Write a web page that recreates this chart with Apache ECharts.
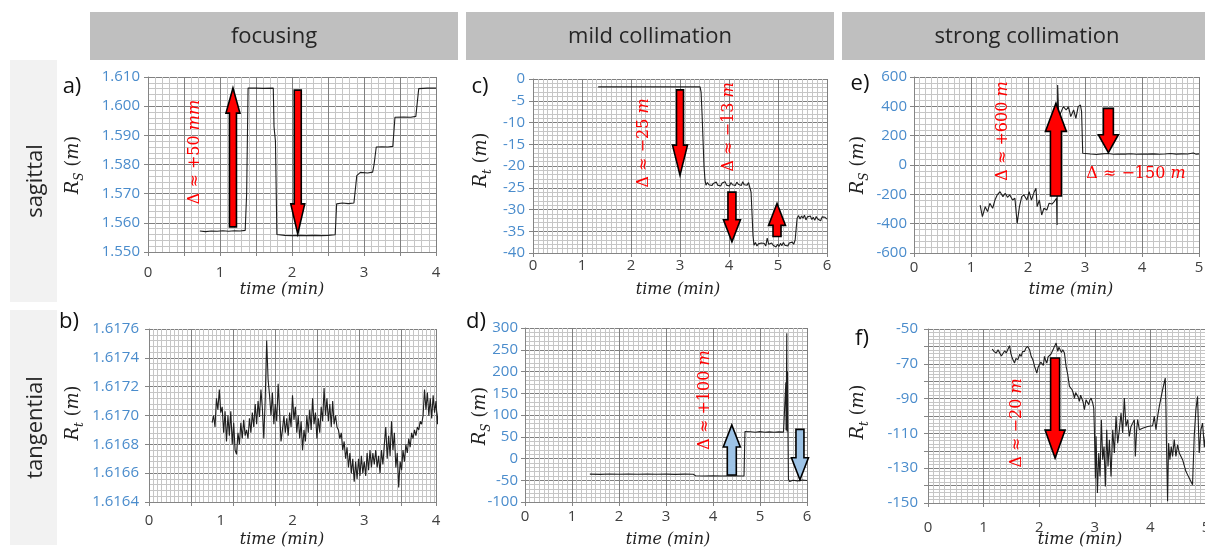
<!DOCTYPE html>
<html><head><meta charset="utf-8">
<script src="https://cdn.jsdelivr.net/npm/echarts@6/dist/echarts.min.js"></script>
<style>html,body{margin:0;padding:0;background:#fff}#c{width:1205px;height:551px}</style>
</head><body><div id="c"></div>
<script>
// ---------------- DATA ----------------
const headerLabels = ['focusing', 'mild collimation', 'strong collimation'];
const rowLabels = ['sagittal', 'tangential'];
const panelLetters = ['a)', 'b)', 'c)', 'd)', 'e)', 'f)'];
const xTitle = 'time (min)';

// axis ranges [min, max, interval, minorSplits]
const xRangeA = [0, 4, 0.5, 5],  yRangeA = [1.550, 1.610, 0.010, 5];
const xRangeB = [0, 4, 1, 0],    yRangeB = [1.6164, 1.6176, 0.0002, 5];
const xRangeC = [0, 6, 1, 10],   yRangeC = [-40, 0, 5, 5];
const xRangeD = [0, 6, 1, 10],   yRangeD = [-100, 300, 50, 5];
const xRangeE = [0, 5, 1, 10],   yRangeE = [-600, 600, 200, 5];
const xRangeF = [0, 5, 1, 10],   yRangeF = [-150, -50, 10, 5];

// a) focusing, sagittal  [time(min), Rs(m)]
const seriesA = [[0.72,1.5572],[0.80,1.5570],[0.88,1.5572],[0.96,1.5571],[1.04,1.5573],[1.12,1.5571],[1.20,1.5573],[1.28,1.5572],[1.35,1.5574],[1.37,1.5700],[1.39,1.6062],[1.50,1.6062],[1.60,1.6061],[1.74,1.6062],[1.75,1.5930],[1.77,1.5880],[1.79,1.5560],[1.90,1.5557],[2.00,1.5556],[2.10,1.5557],[2.20,1.5556],[2.30,1.5557],[2.40,1.5556],[2.50,1.5557],[2.60,1.5559],[2.62,1.5665],[2.70,1.5668],[2.78,1.5666],[2.86,1.5668],[2.90,1.5762],[2.95,1.5773],[3.05,1.5771],[3.12,1.5774],[3.14,1.5800],[3.17,1.5860],[3.25,1.5861],[3.33,1.5860],[3.40,1.5862],[3.43,1.5962],[3.55,1.5963],[3.65,1.5962],[3.72,1.5965],[3.76,1.6060],[3.88,1.6062],[4.00,1.6062]];

// b) focusing, tangential: samples from t=0.88 min every 0.02 min
const startB = 0.88, stepB = 0.02;
const valuesB = [1.61695,1.61700,1.61692,1.61712,1.61704,1.61718,1.61702,1.61706,1.61688,1.61703,1.61682,1.61700,1.61686,1.61703,1.61680,1.61695,1.61676,1.61673,1.61688,1.61680,1.61695,1.61684,1.61697,1.61686,1.61690,1.61684,1.61698,1.61688,1.61702,1.61692,1.61708,1.61694,1.61710,1.61699,1.61718,1.61705,1.61684,1.61712,1.61752,1.61725,1.61714,1.61700,1.61716,1.61694,1.61708,1.61696,1.61722,1.61703,1.61682,1.61690,1.61700,1.61688,1.61698,1.61686,1.61702,1.61692,1.61714,1.61697,1.61706,1.61688,1.61700,1.61684,1.61696,1.61676,1.61690,1.61682,1.61700,1.61688,1.61704,1.61690,1.61712,1.61694,1.61702,1.61684,1.61698,1.61688,1.61706,1.61696,1.61719,1.61700,1.61712,1.61696,1.61708,1.61692,1.61710,1.61694,1.61700,1.61692,1.61690,1.61684,1.61688,1.61676,1.61682,1.61670,1.61678,1.61664,1.61674,1.61660,1.61670,1.61654,1.61668,1.61656,1.61670,1.61658,1.61672,1.61660,1.61668,1.61658,1.61674,1.61662,1.61676,1.61664,1.61674,1.61666,1.61676,1.61664,1.61672,1.61660,1.61676,1.61666,1.61680,1.61692,1.61670,1.61686,1.61672,1.61696,1.61676,1.61688,1.61664,1.61674,1.61650,1.61668,1.61662,1.61676,1.61668,1.61680,1.61674,1.61684,1.61678,1.61688,1.61684,1.61690,1.61686,1.61692,1.61690,1.61696,1.61694,1.61700,1.61718,1.61704,1.61716,1.61700,1.61712,1.61698,1.61714,1.61702,1.61710,1.61694,1.61706,1.61690];
const seriesB = valuesB.map((v, i) => [startB + i * stepB, v]);

// c) mild collimation, sagittal panel (Rt)
const seriesC = [[1.33,-1.8],[1.6,-1.8],[2.0,-1.8],[2.5,-1.8],[3.0,-1.8],[3.41,-1.8],[3.43,-3],[3.45,-8],[3.47,-14],[3.49,-20],[3.51,-23.2],[3.53,-24.4],[3.56,-23.8],[3.59,-24.3],[3.62,-23.9],[3.65,-24.5],[3.68,-24.0],[3.71,-24.2],[3.74,-23.7],[3.77,-24.4],[3.80,-24.1],[3.83,-24.6],[3.86,-23.9],[3.89,-24.3],[3.92,-23.6],[3.95,-24.4],[3.98,-24.0],[4.01,-24.6],[4.04,-23.8],[4.07,-24.3],[4.10,-23.9],[4.13,-24.5],[4.16,-23.7],[4.19,-24.2],[4.22,-23.8],[4.25,-24.5],[4.28,-23.6],[4.31,-24.3],[4.34,-24.0],[4.37,-24.4],[4.40,-23.8],[4.43,-24.2],[4.45,-26],[4.47,-31],[4.49,-36],[4.51,-38.2],[4.54,-37.6],[4.57,-38.4],[4.60,-37.9],[4.63,-38.3],[4.66,-37.7],[4.69,-38.1],[4.72,-37.8],[4.75,-38.4],[4.78,-36.6],[4.81,-38.0],[4.84,-38.3],[4.87,-37.7],[4.90,-38.2],[4.93,-37.9],[4.96,-38.6],[4.99,-38.0],[5.02,-38.5],[5.05,-37.8],[5.08,-38.3],[5.11,-37.6],[5.14,-38.2],[5.17,-37.9],[5.20,-38.4],[5.23,-37.7],[5.26,-38.1],[5.29,-37.5],[5.32,-38.0],[5.35,-37.0],[5.37,-34.5],[5.39,-32.0],[5.42,-31.4],[5.45,-32.2],[5.48,-31.5],[5.51,-32.0],[5.54,-31.3],[5.57,-32.4],[5.60,-31.7],[5.63,-32.1],[5.66,-31.5],[5.69,-32.3],[5.72,-31.8],[5.75,-32.5],[5.78,-31.6],[5.81,-32.2],[5.84,-31.9],[5.87,-32.6],[5.90,-31.7],[5.93,-32.1],[5.96,-31.8],[6.0,-32.2]];

// d) mild collimation, tangential panel (Rs)
const seriesD = [[1.38,-36],[1.6,-36.4],[1.8,-35.6],[2.0,-36.3],[2.2,-35.8],[2.4,-36.2],[2.6,-35.7],[2.8,-36.3],[3.0,-35.9],[3.2,-36.4],[3.4,-36.0],[3.58,-36.2],[3.63,-39.6],[3.8,-40.2],[4.0,-39.8],[4.2,-40.3],[4.4,-39.7],[4.6,-40.2],[4.66,-40.0],[4.68,62],[4.8,61.5],[4.9,60.5],[5.0,61.8],[5.1,60.2],[5.2,61.3],[5.3,60.4],[5.4,61.2],[5.5,60.6],[5.54,61],[5.55,175],[5.555,65],[5.57,288],[5.575,62],[5.585,200],[5.595,65],[5.605,-48],[5.63,-53],[5.7,-50],[5.8,-51.5],[5.9,-49.5],[6.0,-50.5]];

// e) strong collimation, sagittal (Rs)
const seriesE = [[1.16,-273],[1.20,-352],[1.25,-284],[1.29,-318],[1.33,-261],[1.38,-295],[1.42,-239],[1.46,-204],[1.51,-182],[1.56,-216],[1.60,-193],[1.64,-220],[1.68,-204],[1.73,-239],[1.77,-227],[1.81,-398],[1.85,-284],[1.89,-216],[1.93,-204],[1.98,-239],[2.02,-182],[2.06,-239],[2.11,-182],[2.14,-159],[2.16,-284],[2.20,-239],[2.24,-341],[2.28,-295],[2.33,-307],[2.37,-261],[2.42,-266],[2.46,-250],[2.50,-227],[2.51,-409],[2.52,545],[2.54,330],[2.57,352],[2.62,398],[2.67,375],[2.71,398],[2.75,330],[2.80,375],[2.84,318],[2.88,398],[2.92,409],[2.94,364],[2.96,80],[2.98,68],[3.1,75],[3.2,72],[3.3,76],[3.4,78],[3.5,73],[3.6,75],[3.7,74],[3.8,77],[3.9,73],[4.0,75],[4.1,74],[4.2,76],[4.3,73],[4.4,75],[4.5,78],[4.6,74],[4.7,76],[4.8,75],[4.9,82],[4.95,74],[5.0,76]];

// f) strong collimation, tangential (Rt)
const seriesF = [[1.155,-61.5],[1.19,-63.0],[1.227,-63.8],[1.26,-62.0],[1.287,-62.9],[1.32,-65.5],[1.347,-64.8],[1.38,-62.5],[1.407,-63.8],[1.44,-61.5],[1.467,-59.6],[1.49,-64.0],[1.515,-66.7],[1.556,-69.6],[1.58,-67.0],[1.616,-67.6],[1.65,-64.5],[1.676,-65.7],[1.70,-63.0],[1.736,-62.9],[1.76,-61.0],[1.796,-60.0],[1.826,-61.9],[1.856,-65.7],[1.89,-68.0],[1.916,-71.5],[1.957,-75.3],[1.98,-72.0],[2.005,-71.5],[2.03,-69.0],[2.053,-68.6],[2.075,-71.0],[2.095,-65.7],[2.115,-68.0],[2.137,-69.6],[2.16,-66.0],[2.185,-66.7],[2.21,-64.5],[2.233,-63.8],[2.255,-61.5],[2.275,-60.0],[2.305,-58.1],[2.334,-62.9],[2.355,-60.5],[2.376,-61.0],[2.40,-63.5],[2.424,-61.9],[2.454,-63.8],[2.484,-71.5],[2.514,-76.3],[2.544,-83.0],[2.57,-82.0],[2.592,-84.9],[2.615,-87.0],[2.634,-89.7],[2.655,-86.5],[2.676,-85.9],[2.70,-89.0],[2.723,-91.6],[2.745,-88.0],[2.771,-87.8],[2.79,-92.0],[2.813,-96.4],[2.843,-90.6],[2.865,-92.0],[2.891,-93.5],[2.91,-91.0],[2.933,-89.7],[2.963,-92.6],[2.981,-95.4],[2.993,-107.9],[3.011,-135.7],[3.023,-111.7],[3.047,-144.3],[3.071,-121.3],[3.094,-134.7],[3.118,-102.1],[3.142,-125.1],[3.166,-117.5],[3.190,-140.5],[3.214,-107.9],[3.238,-129.0],[3.262,-113.6],[3.292,-134.7],[3.322,-107.9],[3.352,-121.3],[3.382,-100.2],[3.412,-115.6],[3.442,-107.9],[3.472,-98.3],[3.501,-109.8],[3.531,-89.7],[3.561,-106.0],[3.591,-102.1],[3.621,-111.7],[3.651,-106.0],[3.681,-104.1],[3.711,-102.1],[3.729,-123.2],[3.753,-107.9],[3.771,-102.1],[3.801,-107.9],[3.860,-107.0],[3.950,-106.0],[4.040,-105.6],[4.070,-100.2],[4.100,-107.9],[4.130,-100.2],[4.160,-94.5],[4.220,-84.9],[4.267,-78.2],[4.279,-94.5],[4.291,-119.4],[4.309,-149.0],[4.327,-115.6],[4.351,-125.1],[4.375,-117.5],[4.399,-123.2],[4.429,-113.6],[4.459,-123.2],[4.489,-116.5],[4.519,-121.3],[4.579,-125.1],[4.638,-131.8],[4.698,-135.7],[4.758,-139.5],[4.788,-111.7],[4.818,-96.4],[4.848,-88.7],[4.878,-121.3],[4.908,-107.9],[4.938,-104.1],[4.97,-118.0],[5.0,-108.0],[5.03,-112.0]];

// arrows: [time, from value, to value]
const arrowsA = [[1.18, 1.5586, 1.6062], [2.08, 1.6055, 1.5562]];
const arrowsC = [[3.0, -2.5, -22.1], [4.06, -26.0, -37.4], [4.98, -36.2, -28.6]];
const arrowsD = [[4.40, -38, 77], [5.85, 67, -49]];
const arrowsE = [[2.49, -211, 420], [3.41, 386, 84]];
const arrowsF = [[2.286, -66.7, -124.2]];

// annotation texts
const noteA = ['Δ ≈ +50 ', 'mm'];
const noteC1 = ['Δ ≈ −25 ', 'm'];
const noteC2 = ['Δ ≈ −13 ', 'm'];
const noteD = ['Δ ≈ +100 ', 'm'];
const noteE1 = ['Δ ≈ +600 ', 'm'];
const noteE2 = ['Δ ≈ −150 ', 'm'];
const noteF = ['Δ ≈ −20 ', 'm'];

// ---------------- STYLE / LAYOUT ----------------
const RED = '#ff0000', LBLUE = '#9dc3e6';
const GRID_MAJOR = '#7f7f7f', GRID_MINOR = '#c6c6c6', AXIS_C = '#858585';
const TICK_BLUE = '#4a8ccc', TICK_DARK = '#404040';
const TICK_FONT = 'Open Sans';

const intOnly = v => (Math.abs(v - Math.round(v)) < 1e-9 ? String(Math.round(v)) : '');
const fixed = n => (v => v.toFixed(n));
const every20 = v => ((Math.round(v) + 150) % 20 === 0 ? String(Math.round(v)) : '');

function axis(gi, r, o) {
  return {
    type: 'value', gridIndex: gi, min: r[0], max: r[1], interval: r[2], position: o.pos,
    axisLine: { show: o.line !== false, onZero: false, lineStyle: { color: AXIS_C, width: 1 } },
    axisTick: { show: o.tick !== false, length: 4, lineStyle: { color: AXIS_C } },
    axisLabel: { show: o.label !== false, color: o.color, fontFamily: TICK_FONT, fontSize: 15,
      margin: o.margin || 8, formatter: o.fmt, showMinLabel: true, showMaxLabel: true, hideOverlap: false },
    splitLine: { show: o.split !== false, lineStyle: { color: GRID_MAJOR, width: 1 } },
    minorTick: { show: false, splitNumber: r[3] || 5 },
    minorSplitLine: { show: o.split !== false && r[3] > 0, lineStyle: { color: GRID_MINOR, width: 1 } }
  };
}

function makeArrow(styles) {
  return function (params, api) {
    const s = styles[params.dataIndex];
    const a = api.coord([api.value(0), api.value(1)]);
    const b = api.coord([api.value(0), api.value(2)]);
    const dir = b[1] > a[1] ? 1 : -1;
    const cx = a[0], sw = s.sw / 2, hw = s.hw / 2, yb = b[1] - dir * s.hl;
    return {
      type: 'polygon',
      shape: { points: [[cx - sw, a[1]], [cx + sw, a[1]], [cx + sw, yb], [cx + hw, yb], [cx, b[1]], [cx - hw, yb], [cx - sw, yb]] },
      style: { fill: s.c, stroke: '#000', lineWidth: 1.6 }
    };
  };
}

const panels = [
  { box: [148, 77, 288, 175], x: xRangeA, y: yRangeA, data: seriesA, xm: 13, ym: 8, xfmt: intOnly, yfmt: fixed(3),
    arrows: arrowsA, aStyle: [{ c: RED, sw: 7, hw: 14, hl: 25 }, { c: RED, sw: 7, hw: 14, hl: 30 }] },
  { box: [149, 329, 287, 173], x: xRangeB, gridX: [0, 6.83, 1, 10], y: yRangeB, data: seriesB, xm: 11, ym: 10, yfmt: fixed(4) },
  { box: [533, 79, 294, 174], x: xRangeC, y: yRangeC, data: seriesC, xm: 5, ym: 8,
    arrows: arrowsC, aStyle: [{ c: RED, sw: 7, hw: 15, hl: 30 }, { c: RED, sw: 8, hw: 17, hl: 22 }, { c: RED, sw: 8, hw: 17, hl: 22 }] },
  { box: [525, 328, 282, 174], x: xRangeD, y: yRangeD, data: seriesD, xm: 7, ym: 7,
    arrows: arrowsD, aStyle: [{ c: LBLUE, sw: 9, hw: 17, hl: 22 }, { c: LBLUE, sw: 8, hw: 17, hl: 22 }] },
  { box: [914, 77, 285, 176], x: xRangeE, y: yRangeE, data: seriesE, xm: 7, ym: 7,
    arrows: arrowsE, aStyle: [{ c: RED, sw: 11, hw: 21, hl: 28 }, { c: RED, sw: 10, hw: 20, hl: 18 }] },
  { box: [928, 329, 278, 174], x: xRangeF, y: yRangeF, data: seriesF, xm: 17, ym: 10, yfmt: every20,
    arrows: arrowsF, aStyle: [{ c: RED, sw: 9, hw: 20, hl: 28 }] }
];

const option = { animation: false, backgroundColor: '#ffffff', grid: [], xAxis: [], yAxis: [], series: [], graphic: [] };

panels.forEach(p => {
  const gi = option.grid.length;
  option.grid.push({ left: p.box[0], top: p.box[1], width: p.box[2], height: p.box[3], containLabel: false, outerBoundsMode: 'none' });
  const xi = option.xAxis.length;
  option.xAxis.push(axis(gi, p.x, { pos: 'bottom', color: TICK_DARK, margin: p.xm, fmt: p.xfmt, split: !p.gridX, tick: !p.gridX }));
  if (p.gridX) option.xAxis.push(axis(gi, p.gridX, { pos: 'bottom', label: false, line: false }));
  const yi = option.yAxis.length;
  option.yAxis.push(axis(gi, p.y, { pos: 'left', color: TICK_BLUE, margin: p.ym, fmt: p.yfmt }));
  option.series.push({ type: 'line', xAxisIndex: xi, yAxisIndex: yi, data: p.data, showSymbol: false, symbol: 'none',
    lineStyle: { color: '#1e1e1e', width: 1.1 }, z: 5, silent: true });
  if (p.arrows) option.series.push({ type: 'custom', xAxisIndex: xi, yAxisIndex: yi, data: p.arrows, z: 10, silent: true,
    renderItem: makeArrow(p.aStyle) });
});

// ---------- graphic: headers, row labels, titles, annotations ----------
const G = option.graphic;
function text(x, y, t, style, rot) {
  return { type: 'text', x: x, y: y, rotation: rot || 0, z: 100, silent: true,
    style: Object.assign({ text: t, align: 'center', verticalAlign: 'middle', textAlign: 'center', textVerticalAlign: 'middle' }, style) };
}
const hdrBoxes = [[90, 368], [466, 368], [842, 370]];
headerLabels.forEach((h, i) => {
  G.push({ type: 'rect', z: 1, silent: true, shape: { x: hdrBoxes[i][0], y: 12, width: hdrBoxes[i][1], height: 48 }, style: { fill: '#bfbfbf' } });
  G.push(text(hdrBoxes[i][0] + hdrBoxes[i][1] / 2, 37, h, { font: '22px "Open Sans"', fill: '#262626' }));
});
const rowBoxes = [[60, 242], [310, 235]];
rowLabels.forEach((r, i) => {
  G.push({ type: 'rect', z: 1, silent: true, shape: { x: 10, y: rowBoxes[i][0], width: 47, height: rowBoxes[i][1] }, style: { fill: '#f2f2f2' } });
  G.push(text(36, rowBoxes[i][0] + rowBoxes[i][1] / 2, r, { font: '22px "Open Sans"', fill: '#262626' }, Math.PI / 2));
});
const letterPos = [[72, 87], [69, 322], [480, 87], [476, 322], [860, 84], [862, 339]];
panelLetters.forEach((l, i) => G.push(text(letterPos[i][0], letterPos[i][1], l, { font: '22px "Open Sans"', fill: '#111' })));

const yRich = {
  r: { fontFamily: 'DejaVu Serif', fontStyle: 'italic', fontSize: 18, lineHeight: 26, fill: '#222' },
  s: { fontFamily: 'DejaVu Serif', fontStyle: 'italic', fontSize: 12, lineHeight: 13, verticalAlign: 'bottom', fill: '#222' },
  n: { fontFamily: 'DejaVu Serif', fontSize: 18, lineHeight: 26, fill: '#222' }
};
const yTitles = [['S', 73, 165], ['t', 73, 413], ['t', 481, 160], ['S', 480, 416], ['S', 858, 165], ['t', 858, 412]];
yTitles.forEach(t => G.push(text(t[1], t[2], '{r|R}{s|' + t[0] + '}{n| (}{r|m}{n|)}', { rich: yRich }, Math.PI / 2)));

const xTitlePos = [[282, 290], [282, 540], [678, 290], [668, 540], [1071, 290], [1080, 540]];
xTitlePos.forEach(p => G.push(text(p[0], p[1], xTitle, { font: 'italic 16px "DejaVu Serif"', fill: '#222' })));

const nRich = {
  n: { fontFamily: 'DejaVu Serif', fontSize: 16, fill: RED },
  i: { fontFamily: 'DejaVu Serif', fontStyle: 'italic', fontSize: 16, fill: RED }
};
function note(x, y, n, rot) { G.push(text(x, y, '{n|' + n[0] + '}{i|' + n[1] + '}', { rich: nRich }, rot)); }
note(195, 152, noteA, Math.PI / 2);
note(644, 143, noteC1, Math.PI / 2);
note(729, 127, noteC2, Math.PI / 2);
note(705, 400, noteD, Math.PI / 2);
note(1003, 131, noteE1, Math.PI / 2);
note(1136, 174, noteE2, 0);
note(1017, 423, noteF, Math.PI / 2);

const chart = echarts.init(document.getElementById('c'), null, { renderer: 'canvas' });
chart.setOption(option);
</script></body></html>
